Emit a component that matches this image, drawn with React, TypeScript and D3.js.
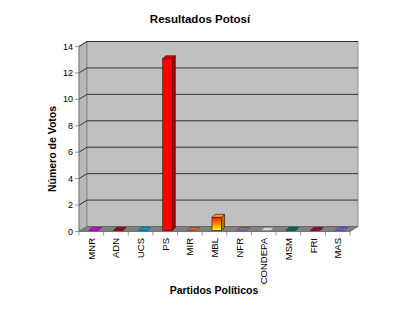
import React from "react";
import * as d3 from "d3";

const categories = ["MNR", "ADN", "UCS", "PS", "MIR", "MBL", "NFR", "CONDEPA", "MSM", "FRI", "MAS"];
const votes = [0, 0, 0, 13, 0, 1, 0, 0, 0, 0, 0];
const colors = ["#cc00cc", "#990000", "#0099cc", "#ff0000", "#cc6633", "#ffcc00", "#996699", "#d8d8d8", "#006666", "#990033", "#6666cc"];
const yTicks = [0, 2, 4, 6, 8, 10, 12, 14];

const W = 400;
const H = 309;
const FX0 = 79;
const FX1 = 350;
const FY0 = 231.5;
const FY1 = 46.5;
const DX = 8;
const DY = -5;
const BDX = 3;
const BDY = -3;

export default function App() {
  const x = d3.scaleBand<string>().domain(categories).range([FX0, FX1]).padding(0);
  const y = d3.scaleLinear().domain([0, 14]).range([FY0, FY1]);
  const font = "Arial, 'Liberation Sans', sans-serif";
  const bw = 9.6;

  const shade = (c: string, k: number) => d3.color(c)!.darker(k).formatHex();

  return (
    <svg width={W} height={H} style={{ position: "absolute", left: 0, top: 0, background: "#fff" }} fontFamily={font}>
      <defs>
        <linearGradient id="mblGrad" x1="0" y1="0" x2="0" y2="1">
          <stop offset="0" stopColor="#ff2200" />
          <stop offset="0.5" stopColor="#ff8800" />
          <stop offset="1" stopColor="#ffff00" />
        </linearGradient>
      </defs>
      <text x={200} y={23} textAnchor="middle" fontSize={11.5} fontWeight="bold">Resultados Potosí</text>
      {/* side wall */}
      <polygon points={`${FX0},${FY1} ${FX0 + DX},${FY1 + DY} ${FX0 + DX},${FY0 + DY} ${FX0},${FY0}`} fill="#b8b8b8" stroke="#808080" strokeWidth={0.8} />
      {/* back wall */}
      <rect x={FX0 + DX} y={FY1 + DY} width={FX1 - FX0} height={FY0 - FY1} fill="#c0c0c0" stroke="#808080" strokeWidth={0.8} />
      {/* gridlines */}
      {yTicks.filter((t) => t > 0).map((t) => (
        <polyline key={t} points={`${FX0},${y(t)} ${FX0 + DX},${y(t) + DY} ${FX1 + DX},${y(t) + DY}`} fill="none" stroke="#333333" strokeWidth={1} />
      ))}
      {/* floor */}
      <polygon points={`${FX0},${FY0} ${FX0 + DX},${FY0 + DY} ${FX1 + DX},${FY0 + DY} ${FX1},${FY0}`} fill="#808080" stroke="#606060" strokeWidth={0.8} />
      {/* bars */}
      {categories.map((c, i) => {
        const cx = x(c)! + x.bandwidth() / 2;
        const bx = cx - 2.5;
        const by0 = FY0 - 1;
        const by1 = y(votes[i]) - 1;
        const col = colors[i];
        const front = c === "MBL" ? "url(#mblGrad)" : col;
        const top = c === "MBL" ? "#ff9900" : c === "PS" ? "#dd0000" : col;
        const side = c === "MBL" ? "#a08000" : shade(col, 1.2);
        return (
          <g key={c} stroke={votes[i] > 0 ? "#400000" : shade(col, 1.5)} strokeWidth={0.6}>
            {votes[i] > 0 && <rect x={bx} y={by1} width={bw} height={by0 - by1} fill={front} />}
            {votes[i] > 0 && (
              <polygon points={`${bx + bw},${by1} ${bx + bw + BDX},${by1 + BDY} ${bx + bw + BDX},${by0 + BDY} ${bx + bw},${by0}`} fill={side} />
            )}
            <polygon points={`${bx},${by1} ${bx + BDX},${by1 + BDY} ${bx + bw + BDX},${by1 + BDY} ${bx + bw},${by1}`} fill={top} />
          </g>
        );
      })}
      {/* y axis */}
      <line x1={FX0} x2={FX0} y1={FY0} y2={FY1} stroke="#808080" strokeWidth={0.8} />
      {yTicks.map((t) => (
        <g key={t}>
          <line x1={FX0 - 4} x2={FX0} y1={y(t)} y2={y(t)} stroke="#808080" strokeWidth={0.8} />
          <text x={FX0 - 6} y={y(t)} textAnchor="end" dominantBaseline="central" fontSize={9}>{t}</text>
        </g>
      ))}
      {/* x ticks */}
      {categories.map((c) => (
        <line key={"t" + c} x1={x(c)!} x2={x(c)!} y1={FY0} y2={FY0 + 4} stroke="#808080" strokeWidth={0.8} />
      ))}
      <line x1={FX1} x2={FX1} y1={FY0} y2={FY0 + 4} stroke="#808080" strokeWidth={0.8} />
      {categories.map((c) => {
        const cx = x(c)! + x.bandwidth() / 2;
        return (
          <text key={"l" + c} transform={`translate(${cx},238) rotate(-90)`} textAnchor="end" dominantBaseline="central" fontSize={9.5}>{c}</text>
        );
      })}
      <text x={214} y={294} textAnchor="middle" fontSize={10.5} fontWeight="bold">Partidos Políticos</text>
      <text transform={`translate(52,149) rotate(-90)`} textAnchor="middle" dominantBaseline="central" fontSize={10.5} fontWeight="bold">Número de Votos</text>
    </svg>
  );
}
